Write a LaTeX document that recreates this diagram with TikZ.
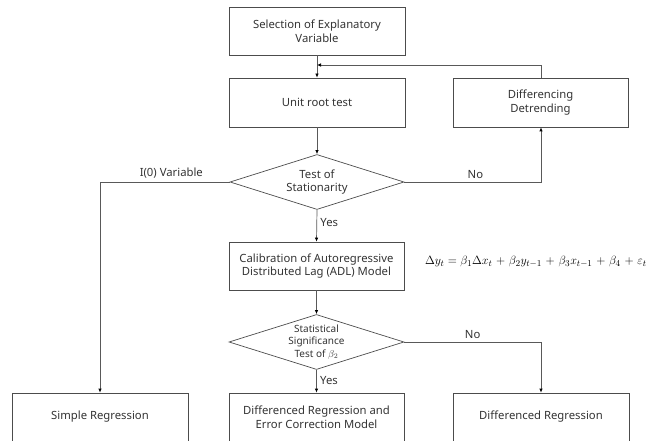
\documentclass[tikz,border=0pt]{standalone}
\usepackage{fontspec}
\setmainfont{Noto Sans}
\usetikzlibrary{shapes.geometric,arrows.meta}
\begin{document}
\begin{tikzpicture}[x=1pt,y=-1pt,
  box/.style={draw=black!70,line width=0.7pt,rectangle,inner sep=2pt,align=center,text=black!80,font=\fontsize{11.3}{13.5}\selectfont},
  dia/.style={draw=black!70,line width=0.7pt,diamond,inner sep=0pt},
  dtext/.style={align=center,text=black!80,inner sep=0pt},
  con/.style={draw=black!65,line width=0.7pt},
  arr/.style={con,-{Latex[length=4pt,width=3.5pt,black]}},
  lab/.style={text=black!80,font=\fontsize{11.3}{13.5}\selectfont}]
\useasboundingbox (0,0) rectangle (657,441);
\clip (0,0) rectangle (657,441);
\node[box,minimum width=176pt,minimum height=48pt] (sel) at (317,31) {Selection of Explanatory\\Variable};
\node[box,minimum width=176pt,minimum height=49pt] (unit) at (317,102.5) {Unit root test};
\node[box,minimum width=175pt,minimum height=49pt] (diff) at (540.5,102.5) {Differencing\\Detrending};
\node[dia,minimum width=174pt,minimum height=55pt] (stat) at (317,182) {};
\node[dtext,font=\fontsize{11.3}{13.5}\selectfont] (statt) at (stat) {Test of\\Stationarity};
\node[box,minimum width=175pt,minimum height=48pt] (cal) at (316.5,266) {Calibration of Autoregressive\\Distributed Lag (ADL) Model};
\node[dia,minimum width=175pt,minimum height=55pt] (sig) at (316.5,342) {};
\node[dtext,font=\fontsize{10}{12.5}\selectfont] (sigt) at (sig) {Statistical\\Significance\\Test of $\beta_2$};
\node[box,minimum width=176pt,minimum height=48pt] (simp) at (100,417) {Simple Regression};
\node[box,minimum width=175pt,minimum height=48pt] (der) at (316.5,417) {Differenced Regression and\\Error Correction Model};
\node[box,minimum width=176pt,minimum height=48pt] (dr) at (541,417) {Differenced Regression};
\node[font=\fontsize{13.1}{15}\selectfont,anchor=west,inner sep=0pt] (eq) at (425,262) {\medmuskip=5.5mu$\Delta y_t=\beta_1\Delta x_t+\beta_2 y_{t-1}+\beta_3 x_{t-1}+\beta_4+\varepsilon_t$};
\coordinate (j1) at (317,65);
\coordinate (j2) at (541,65);
\coordinate (c1) at (541,182);
\coordinate (c2) at (100,182);
\coordinate (c3) at (541,342);
\draw[arr] (sel) -- (unit);
\draw[arr] (diff.north -| j2) -- (j2) -- (j1);
\draw[arr] (unit) -- (stat);
\draw[arr] (stat.east) -- node[lab,above,pos=0.52] (no1) {No} (c1) -- (diff.south -| c1);
\draw[arr] (stat.west) -- node[lab,above,pos=0.45] (i0) {I(0) Variable} (c2) -- (simp.north -| c2);
\draw[arr] (stat.south) -- node[lab,right,pos=0.4] (y1) {Yes} (cal.north);
\draw[arr] (cal) -- (sig);
\draw[arr] (sig.south) -- node[lab,right,pos=0.45] (y2) {Yes} (der.north);
\draw[arr] (sig.east) -- node[lab,above,pos=0.5] (no2) {No} (c3) -- (dr.north -| c3);
\end{tikzpicture}
\end{document}
